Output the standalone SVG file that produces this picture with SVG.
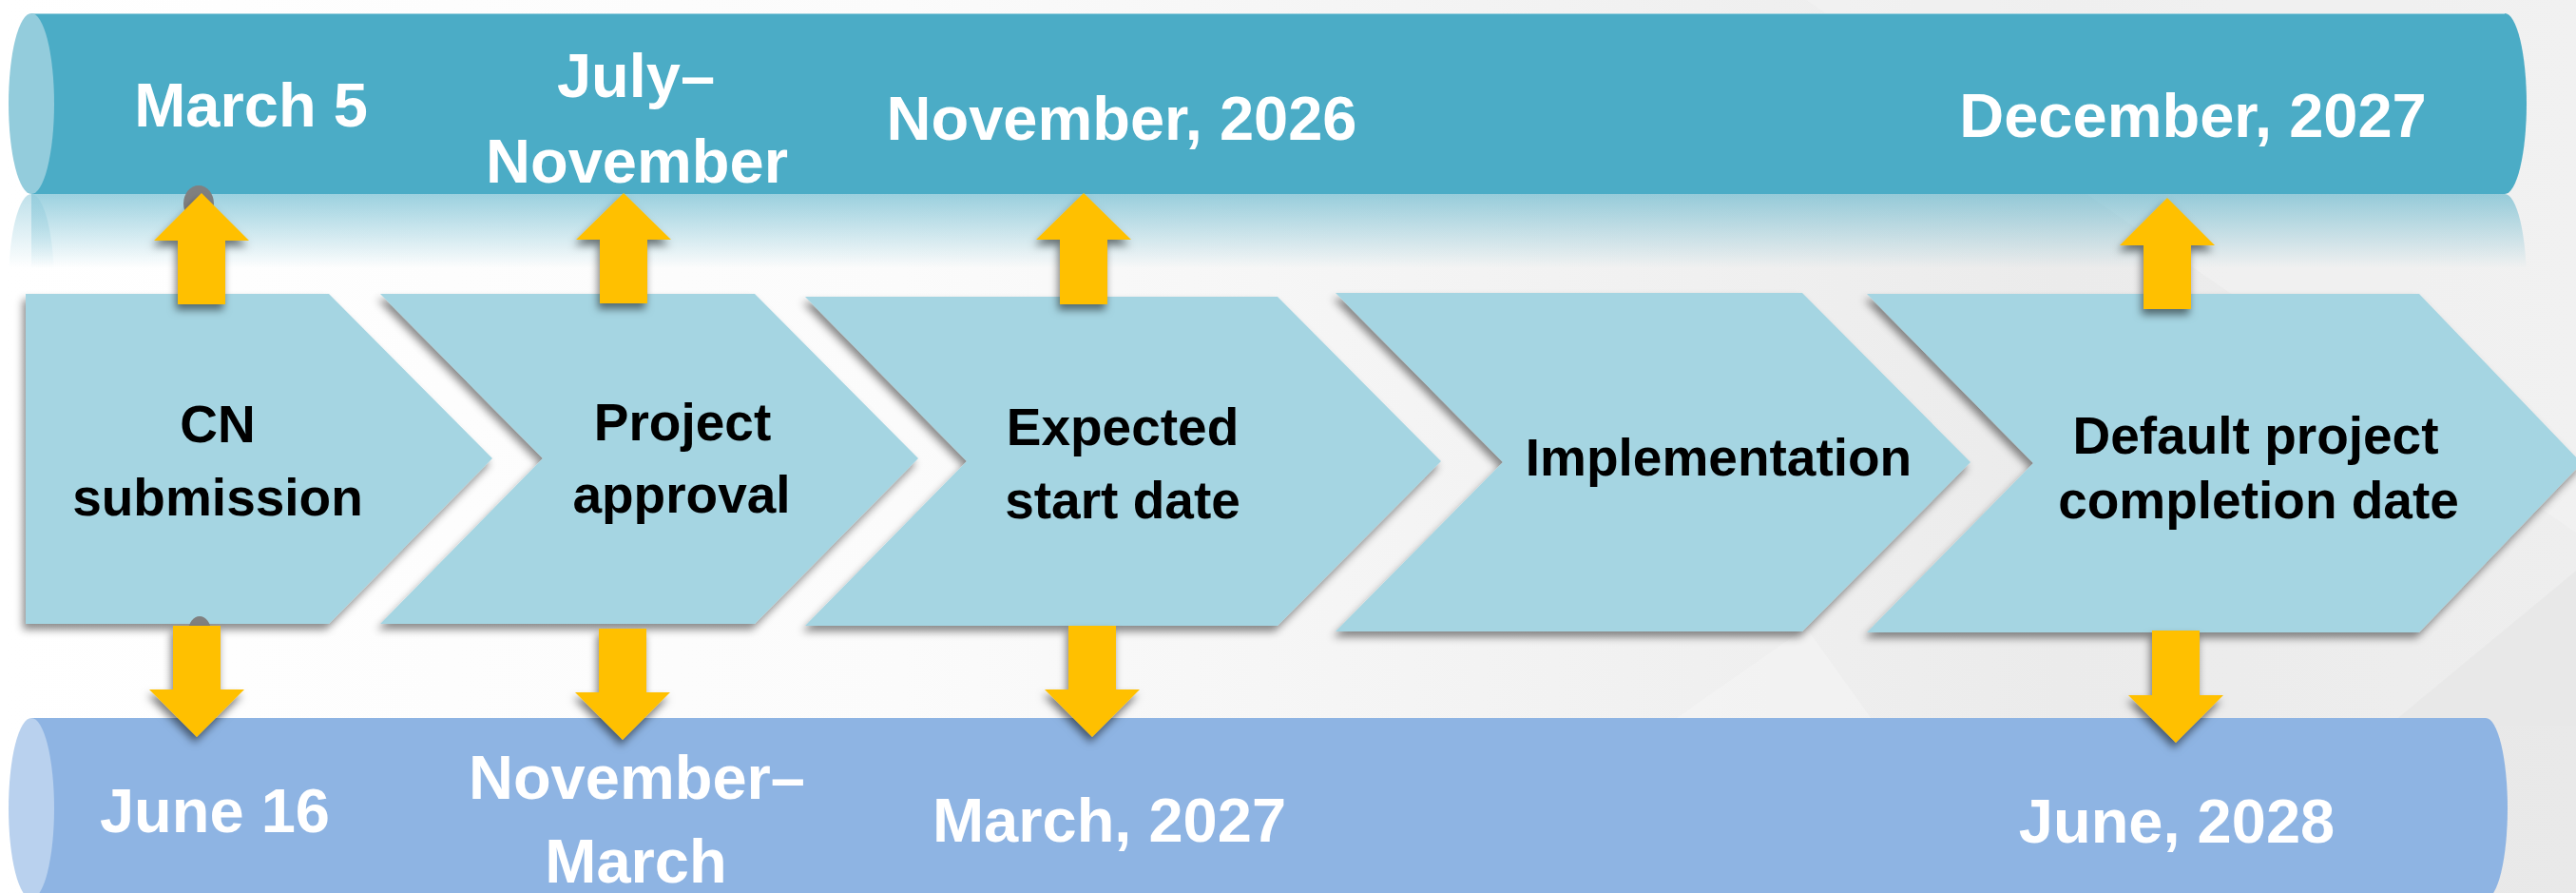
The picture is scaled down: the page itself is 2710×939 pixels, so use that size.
<svg xmlns="http://www.w3.org/2000/svg" width="2710" height="939" viewBox="0 0 2710 939">
  <defs>
    <linearGradient id="bg" x1="0" y1="0" x2="1" y2="0">
      <stop offset="0" stop-color="#ffffff"/>
      <stop offset="0.35" stop-color="#fbfbfb"/>
      <stop offset="0.8" stop-color="#ebebeb"/>
      <stop offset="1" stop-color="#eeeeee"/>
    </linearGradient>
    <linearGradient id="refl" gradientUnits="userSpaceOnUse" x1="0" y1="204" x2="0" y2="282">
      <stop offset="0" stop-color="#4BACC6" stop-opacity="0.55"/>
      <stop offset="1" stop-color="#4BACC6" stop-opacity="0"/>
    </linearGradient>
    <linearGradient id="reflFace" gradientUnits="userSpaceOnUse" x1="0" y1="204" x2="0" y2="282">
      <stop offset="0" stop-color="#93CCDC" stop-opacity="0.6"/>
      <stop offset="1" stop-color="#93CCDC" stop-opacity="0"/>
    </linearGradient>
    <filter id="shadow" x="-10%" y="-10%" width="120%" height="130%">
      <feDropShadow dx="-3" dy="6" stdDeviation="4" flood-color="#000" flood-opacity="0.45"/>
    </filter>
    <filter id="ashadow" x="-30%" y="-20%" width="160%" height="150%">
      <feDropShadow dx="-2" dy="6" stdDeviation="4" flood-color="#000" flood-opacity="0.5"/>
    </filter>
  </defs>
  <style>
    .chev { fill: #A5D5E2; filter: url(#shadow); }
    .arrow { fill: #FFC000; filter: url(#ashadow); }
    .lbl { font-family: "Liberation Sans", Arial, sans-serif; font-weight: bold; font-size: 65px; fill: #ffffff; text-anchor: middle; }
    .step { font-family: "Liberation Sans", Arial, sans-serif; font-weight: bold; font-size: 55px; fill: #000000; text-anchor: middle; }
    .blob { fill: #808080; }
  </style>

  <rect x="0" y="0" width="2710" height="939" fill="url(#bg)"/>
  <g opacity="0.5">
    <polygon points="1900,0 2710,0 2710,560" fill="#f4f4f4"/>
    <polygon points="2300,939 2710,600 2710,939" fill="#e4e4e4"/>
    <polygon points="1500,939 1900,660 2100,939" fill="#f6f6f6"/>
  </g>

  <!-- top bar -->
  <g id="top-bar">
    <path d="M33,204 H2635 A23,95 0 0 1 2635,394 H33 Z" fill="url(#refl)"/>
    <path d="M9,299 A24,95 0 0 1 57,299 A24,95 0 0 1 9,299 Z" fill="url(#reflFace)"/>
    <path d="M33,14 H2635 A23,95 0 0 1 2635,204 H33 Z" fill="#4BACC6"/>
    <line x1="33" y1="14.5" x2="2635" y2="14.5" stroke="#9fd3e0" stroke-width="1"/>
    <ellipse cx="33" cy="109" rx="24" ry="95" fill="#93CCDC"/>
    <text class="lbl" x="264" y="133">March 5</text>
    <text class="lbl" x="669" y="102">July–</text>
    <text class="lbl" x="670" y="192">November</text>
    <text class="lbl" x="1180" y="147">November, 2026</text>
    <text class="lbl" x="2307" y="144">December, 2027</text>
  </g>

  <!-- bottom bar -->
  <g id="bottom-bar">
    <path d="M33,755 H2615 A23,95 0 0 1 2615,945 H33 Z" fill="#8EB4E3"/>
    <ellipse cx="33" cy="850" rx="24" ry="95" fill="#B9D1EE"/>
    <text class="lbl" x="226" y="875">June 16</text>
    <text class="lbl" x="670" y="840">November–</text>
    <text class="lbl" x="669" y="928">March</text>
    <text class="lbl" x="1167" y="885">March, 2027</text>
    <text class="lbl" x="2290" y="886">June, 2028</text>
  </g>

  <!-- chevrons -->
  <g id="cn-submission">
    <polygon class="chev" points="27,309 346,309 518,482 346,656 27,656"/>
    <text class="step" x="229" y="465">CN</text>
    <text class="step" x="229" y="542">submission</text>
  </g>
  <g id="project-approval">
    <polygon class="chev" points="400,309 794,309 966,482 794,656 400,656 571,482"/>
    <text class="step" x="718" y="463">Project</text>
    <text class="step" x="717" y="539">approval</text>
  </g>
  <g id="expected-start">
    <polygon class="chev" points="847,312 1344,312 1516,485 1344,658 847,658 1017,485"/>
    <text class="step" x="1181" y="468">Expected</text>
    <text class="step" x="1181" y="545">start date</text>
  </g>
  <g id="implementation">
    <polygon class="chev" points="1405,308 1896,308 2073,486 1896,664 1405,664 1581,486"/>
    <text class="step" x="1808" y="500">Implementation</text>
  </g>
  <g id="default-completion">
    <polygon class="chev" points="1964,309 2545,309 2716,487 2545,665 1964,665 2139,487"/>
    <text class="step" x="2373" y="477">Default project</text>
    <text class="step" x="2376" y="545">completion date</text>
  </g>

  <!-- connectors -->
  <g id="connectors">
    <ellipse class="blob" cx="209" cy="214" rx="16" ry="19"/>
    <ellipse class="blob" cx="210" cy="664" rx="12" ry="16"/>
    <polygon class="arrow" points="212,203 262,253 237,253 237,320 187,320 187,253 162,253"/>
    <polygon class="arrow" points="656,203 706,252 681,252 681,319 631,319 631,252 606,252"/>
    <polygon class="arrow" points="1140,203 1190,252 1165,252 1165,320 1115,320 1115,252 1090,252"/>
    <polygon class="arrow" points="2280,208 2330,258 2305,258 2305,325 2255,325 2255,258 2230,258"/>
    <polygon class="arrow" points="182,658 232,658 232,725 257,725 207,775 157,725 182,725"/>
    <polygon class="arrow" points="630,661 680,661 680,728 705,728 655,778 605,728 630,728"/>
    <polygon class="arrow" points="1124,658 1174,658 1174,725 1199,725 1149,775 1099,725 1124,725"/>
    <polygon class="arrow" points="2264,663 2314,663 2314,731 2339,731 2289,781 2239,731 2264,731"/>
  </g>
</svg>
